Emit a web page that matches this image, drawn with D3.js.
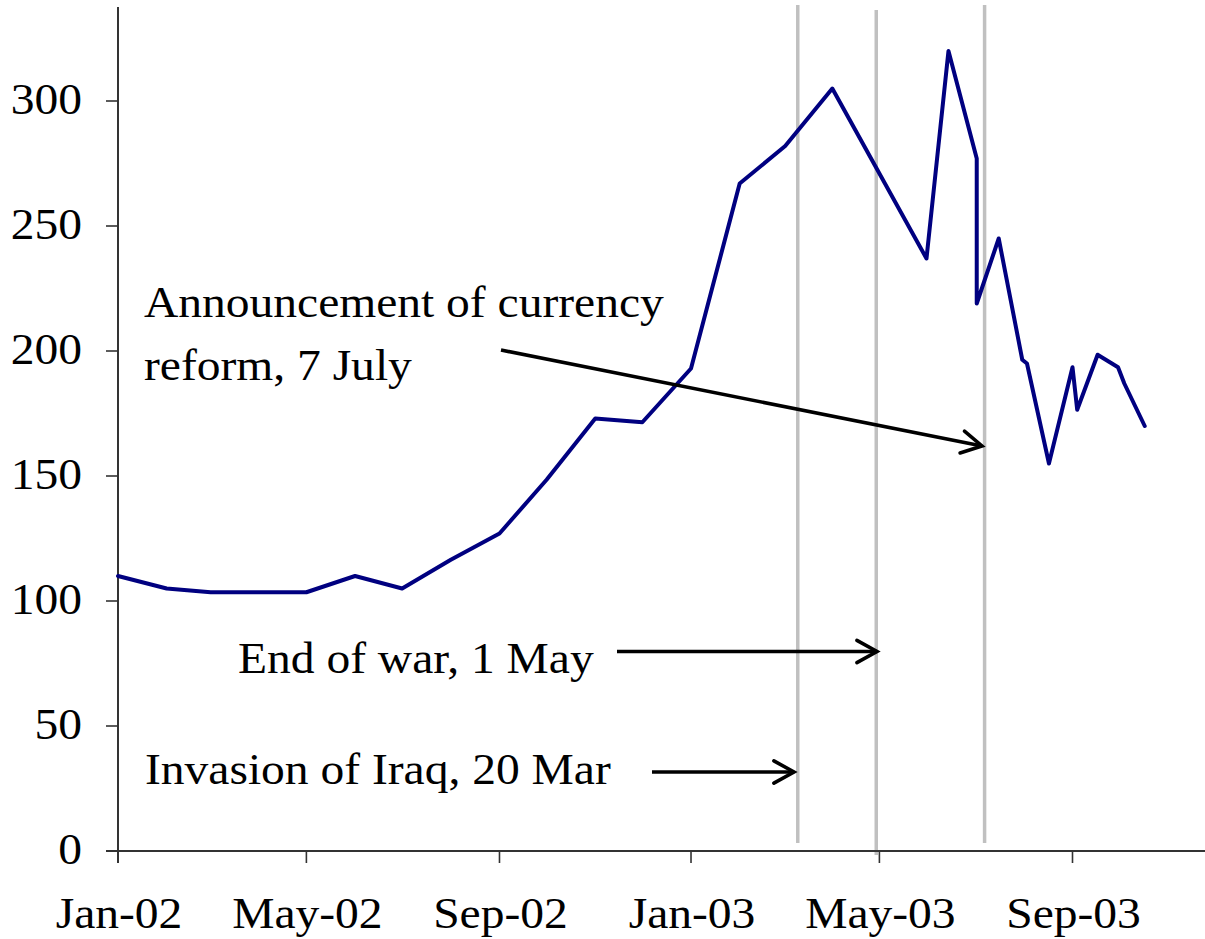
<!DOCTYPE html>
<html>
<head>
<meta charset="utf-8">
<script src="https://cdn.jsdelivr.net/npm/d3@7"></script>
<style>
  html, body { margin: 0; padding: 0; background: #fff; }
  svg { display: block; }
  text { font-family: "Liberation Serif", "Times New Roman", serif; fill: #000; }
</style>
</head>
<body>
<svg id="chart" width="1205" height="939"></svg>
<script>
// ---------- data ----------
const dates = [
  "2002-01-01","2002-02-01","2002-03-01","2002-04-01","2002-05-01","2002-06-01",
  "2002-07-01","2002-08-01","2002-09-01","2002-10-01","2002-11-01","2002-12-01",
  "2003-01-01","2003-02-01","2003-03-02","2003-04-01","2003-05-31","2003-06-14",
  "2003-07-02","2003-07-02","2003-07-16","2003-07-31","2003-08-03","2003-08-17",
  "2003-09-01","2003-09-04","2003-09-17","2003-09-30","2003-10-04","2003-10-17"
];
const values = [
  110, 105, 103.5, 103.5, 103.5, 110,
  105, 116.5, 127, 148.5, 173, 171.5,
  193, 267, 282, 305, 237, 320,
  277, 219, 245, 196.5, 195, 155,
  193.5, 176.5, 198.5, 193.5, 187, 170
];
const yTicks = [0, 50, 100, 150, 200, 250, 300];
const xTickDates = ["2002-01-01","2002-05-01","2002-09-01","2003-01-01","2003-05-01","2003-09-01"];
const xTickLabels = ["Jan-02","May-02","Sep-02","Jan-03","May-03","Sep-03"];
const eventDates = ["2003-03-10","2003-04-29","2003-07-07"];
const eventLabels = ["Invasion of Iraq, 20 Mar","End of war, 1 May","Announcement of currency|reform, 7 July"];

// ---------- scales ----------
const parse = d3.timeParse("%Y-%m-%d");
const x = d3.scaleTime()
  .domain([parse("2002-01-01"), parse("2003-09-01")])
  .range([118, 1072.5]);
const y = d3.scaleLinear().domain([0, 300]).range([851, 101]);

const svg = d3.select("#chart");
const FS = 44, SX = 1.08;

// ---------- event lines ----------
const evTop = [338.4, 336.4, 338.4];
const evBot = [3.2, -1.6, 3.2];
svg.append("g").selectAll("line").data(eventDates).join("line")
  .attr("x1", d => x(parse(d))).attr("x2", d => x(parse(d)))
  .attr("y1", (d, i) => y(evTop[i])).attr("y2", (d, i) => y(evBot[i]))
  .attr("stroke", "#c0c0c0").attr("stroke-width", 3.5);

// ---------- axes ----------
const ax = svg.append("g");
ax.append("line").attr("x1", 118).attr("x2", 118).attr("y1", 7).attr("y2", 863)
  .attr("stroke", "#000").attr("stroke-width", 1.6);
ax.append("line").attr("x1", 106).attr("x2", 1205).attr("y1", y(0)).attr("y2", y(0))
  .attr("stroke", "#333").attr("stroke-width", 2);
ax.selectAll(".yt").data(yTicks).join("line").attr("class", "yt")
  .attr("x1", 106).attr("x2", 118).attr("y1", d => y(d)).attr("y2", d => y(d))
  .attr("stroke", "#333").attr("stroke-width", 1.6);
ax.selectAll(".yl").data(yTicks).join("text").attr("class", "yl")
  .attr("text-anchor", "end").attr("font-size", FS)
  .attr("transform", d => `translate(82,${y(d) + 13}) scale(${SX},1)`)
  .text(d => d);
ax.selectAll(".xt").data(xTickDates).join("line").attr("class", "xt")
  .attr("x1", d => x(parse(d))).attr("x2", d => x(parse(d)))
  .attr("y1", y(0)).attr("y2", y(0) + 12)
  .attr("stroke", "#333").attr("stroke-width", 1.6);
ax.selectAll(".xl").data(xTickDates).join("text").attr("class", "xl")
  .attr("text-anchor", "middle").attr("font-size", FS)
  .attr("transform", d => `translate(${x(parse(d)) + 1},928) scale(${SX},1)`)
  .text((d, i) => xTickLabels[i]);

// ---------- series ----------
const pts = dates.map((d, i) => [parse(d), values[i]]);
svg.append("path").datum(pts)
  .attr("fill", "none").attr("stroke", "#000080").attr("stroke-width", 4)
  .attr("stroke-linejoin", "round").attr("stroke-linecap", "round")
  .attr("d", d3.line().x(d => x(d[0])).y(d => y(d[1])));

// ---------- annotations ----------
const ann = svg.append("g");
function label(txt, tx, ty) {
  ann.append("text").attr("font-size", FS)
    .attr("transform", `translate(${tx},${ty}) scale(${SX},1)`).text(txt);
}
const lines3 = eventLabels[2].split("|");
label(lines3[0], 144, 317);
label(lines3[1], 144, 380);
label(eventLabels[1], 238, 673);
label(eventLabels[0], 145, 784);

function arrow(x1, y1, x2, y2) {
  const a = Math.atan2(y2 - y1, x2 - x1);
  const L = 23, w = Math.PI / 6.2;
  ann.append("line").attr("x1", x1).attr("y1", y1).attr("x2", x2).attr("y2", y2)
    .attr("stroke", "#000").attr("stroke-width", 3.6);
  const p1 = [x2 - L * Math.cos(a - w), y2 - L * Math.sin(a - w)];
  const p2 = [x2 - L * Math.cos(a + w), y2 - L * Math.sin(a + w)];
  ann.append("path").attr("d", `M${p1[0]},${p1[1]}L${x2},${y2}L${p2[0]},${p2[1]}`)
    .attr("fill", "none").attr("stroke", "#000").attr("stroke-width", 3.6)
    .attr("stroke-linecap", "round").attr("stroke-linejoin", "miter");
}
arrow(501, 350, 982, 446);
arrow(617, 651.5, 877, 651.5);
arrow(652, 772, 794, 772);
</script>
</body>
</html>
